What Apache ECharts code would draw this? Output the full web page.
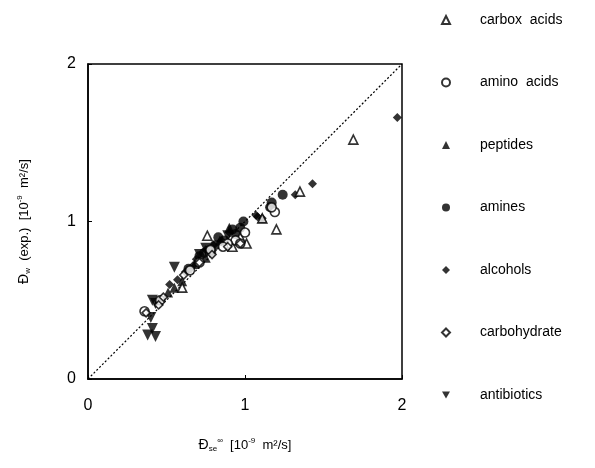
<!doctype html>
<html>
<head>
<meta charset="UTF-8">
<title>Diffusivity comparison</title>
<script src="https://cdn.jsdelivr.net/npm/echarts@6/dist/echarts.min.js"></script>
<style>
  html, body { margin: 0; padding: 0; background: #fff; }
  #chart { width: 595px; height: 468px; }
</style>
</head>
<body>
<div id="chart"></div>
<script>
// series names, in legend order
var seriesNames = ['carbox  acids', 'amino  acids', 'peptides', 'amines', 'alcohols', 'carbohydrate', 'antibiotics'];

// [D_se (predicted), D_w (exp.)] in 10^-9 m2/s
var carboxAcids = [[1.69, 1.52], [1.35, 1.19], [1.20, 0.95], [0.76, 0.91], [1.01, 0.86], [0.92, 0.84], [1.11, 1.02], [0.60, 0.58], [0.97, 0.90]];
var aminoAcids = [[1.19, 1.06], [1.17, 1.09], [0.94, 0.88], [1.00, 0.93], [0.78, 0.82], [0.89, 0.86], [0.36, 0.43], [0.46, 0.50], [0.65, 0.69], [0.71, 0.74], [0.86, 0.84], [0.97, 0.86]];
var peptides = [[0.51, 0.55], [0.60, 0.62], [0.45, 0.50], [1.11, 1.02], [0.90, 0.96], [0.75, 0.77], [0.68, 0.73], [0.84, 0.88], [0.55, 0.58]];
var amines = [[1.24, 1.17], [1.17, 1.12], [1.16, 1.09], [0.97, 0.96], [0.99, 1.00], [0.81, 0.85], [0.78, 0.82], [0.87, 0.88], [0.71, 0.78], [0.64, 0.70], [0.94, 0.92], [0.83, 0.90], [0.74, 0.80], [0.92, 0.95]];
var alcohols = [[1.97, 1.66], [1.43, 1.24], [1.32, 1.17], [1.08, 1.03], [1.11, 1.02], [1.07, 1.04], [0.90, 0.93], [0.80, 0.85], [0.75, 0.82], [0.85, 0.88], [0.67, 0.72], [0.62, 0.68], [0.57, 0.63], [0.52, 0.60], [0.69, 0.76], [0.79, 0.80]];
var carbohydrate = [[0.37, 0.42], [0.48, 0.52], [0.45, 0.47], [0.61, 0.66], [0.71, 0.74], [0.79, 0.79], [0.97, 0.86], [0.89, 0.84]];
var antibiotics = [[0.71, 0.79], [0.55, 0.71], [0.41, 0.50], [0.43, 0.48], [0.40, 0.39], [0.38, 0.28], [0.43, 0.27], [0.41, 0.32], [0.75, 0.83], [0.89, 0.91]];

// y = x reference line
var parity = [[0, 0], [2, 2]];
var axisTicks = [0, 1, 2];

var font = 'Liberation Sans, Arial, sans-serif';
var downTriangle = 'path://M0,0L10,0L5,9Z';

function pts(name, data, symbol, filled, size, rotate) {
  return {
    name: name,
    type: 'scatter',
    data: data,
    symbol: symbol,
    symbolSize: size,
    symbolRotate: rotate || 0,
    itemStyle: {
      color: filled ? '#000' : '#fff',
      borderColor: '#000',
      borderWidth: filled ? 0 : 1.6
    },
    z: filled ? 3 : 4
  };
}

var rich = {
  d: { fontFamily: font, fontSize: 14, color: '#000' },
  sub: { fontFamily: font, fontSize: 8, color: '#000', verticalAlign: 'bottom', padding: [8, 0, 0, 0] },
  sup: { fontFamily: font, fontSize: 8, color: '#000', verticalAlign: 'top', padding: [0, 0, 6, 0] }
};

var chart = echarts.init(document.getElementById('chart'));
chart.setOption({
  animation: false,
  backgroundColor: '#fff',
  grid: {
    left: 88, right: 193, top: 64, bottom: 89,
    show: true, borderColor: '#000', borderWidth: 1.5
  },
  legend: {
    orient: 'vertical',
    left: 436, top: 8,
    itemWidth: 8, itemHeight: 8,
    itemGap: 48.5,
    data: seriesNames.map(function (n, i) {
      return i === 6 ? { name: n, icon: downTriangle } : { name: n };
    }),
    textStyle: { fontFamily: font, fontSize: 14, color: '#000', padding: [0, 0, 0, 25] }
  },
  xAxis: {
    type: 'value', min: 0, max: 2, interval: 1,
    name: '{d|Đ}{sub|se}{sup|∞}  [10{sup|-9}  m²/s]',
    nameLocation: 'middle', nameGap: 58,
    nameTextStyle: { fontFamily: font, fontSize: 13, color: '#000', rich: rich },
    axisLine: { show: true, lineStyle: { color: '#000', width: 1.5 } },
    axisTick: { show: true, inside: true, length: 4, lineStyle: { color: '#000' } },
    axisLabel: {
      fontFamily: font, fontSize: 16, color: '#000', margin: 19,
      formatter: function (v) { return axisTicks.indexOf(v) >= 0 ? String(v) : ''; }
    },
    splitLine: { show: false }
  },
  yAxis: {
    type: 'value', min: 0, max: 2, interval: 1,
    name: '{d|Đ}{sub|w}  (exp.)  [10{sup|-9}  m²/s]',
    nameLocation: 'middle', nameGap: 56,
    nameTextStyle: { fontFamily: font, fontSize: 13, color: '#000', rich: rich },
    axisLine: { show: true, lineStyle: { color: '#000', width: 1.5 } },
    axisTick: { show: true, inside: true, length: 4, lineStyle: { color: '#000' } },
    axisLabel: {
      fontFamily: font, fontSize: 16, color: '#000', margin: 12,
      formatter: function (v) { return axisTicks.indexOf(v) >= 0 ? String(v) : ''; }
    },
    splitLine: { show: false }
  },
  series: [
    {
      name: 'parity', type: 'line', data: parity, symbol: 'none', silent: true,
      lineStyle: { color: '#000', width: 1.2, type: [2, 2] }, z: 1
    },
    pts(seriesNames[0], carboxAcids, 'triangle', false, 9),
    pts(seriesNames[1], aminoAcids, 'circle', false, 9),
    pts(seriesNames[2], peptides, 'triangle', true, 10),
    pts(seriesNames[3], amines, 'circle', true, 10),
    pts(seriesNames[4], alcohols, 'diamond', true, 9),
    pts(seriesNames[5], carbohydrate, 'diamond', false, 8),
    pts(seriesNames[6], antibiotics, 'triangle', true, 11, 180)
  ]
});
</script>
</body>
</html>
